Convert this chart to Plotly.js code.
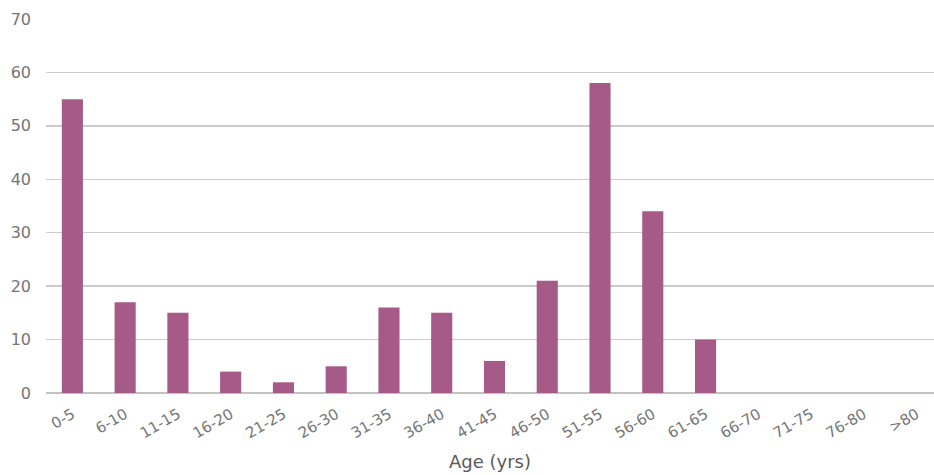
<!DOCTYPE html>
<html>
<head>
<meta charset="utf-8">
<script src="https://cdn.plot.ly/plotly-3.0.1.min.js"></script>
<style>html,body{margin:0;padding:0;background:#fff;}#chart{width:934px;height:475px;}</style>
</head>
<body>
<div id="chart"></div>
<script>
// Patient counts by age band
const ageBands = ["0-5","6-10","11-15","16-20","21-25","26-30","31-35","36-40","41-45","46-50","51-55","56-60","61-65","66-70","71-75","76-80",">80"];
const counts = [55,17,15,4,2,5,16,15,6,21,58,34,10,0,0,0,0];
const yTicks = [0,10,20,30,40,50,60,70];

const trace = {
  type: "bar",
  x: ageBands,
  y: counts,
  marker: {color: "#a65a88"},
  hoverinfo: "x+y"
};

const layout = {
  width: 934,
  height: 475,
  margin: {l: 46, r: 0, t: 19, b: 82},
  paper_bgcolor: "#fff",
  plot_bgcolor: "#fff",
  bargap: 0.6,
  showlegend: false,
  font: {family: "'DejaVu Sans', sans-serif", color: "#666", size: 15},
  xaxis: {
    type: "category",
    range: [-0.5, 16.33],
    tickangle: -30,
    showgrid: false,
    zeroline: false,
    showline: false,
    ticks: "",
    ticklabelstandoff: 9,
    tickfont: {size: 15, color: "#757575"},
    title: {text: "Age (yrs)", font: {size: 18, color: "#5a5a5a"}, standoff: 14}
  },
  yaxis: {
    range: [0, 70],
    tickvals: yTicks,
    showgrid: true,
    gridcolor: "#cbcbcb",
    gridwidth: 1.5,
    zeroline: true,
    zerolinecolor: "#c2c2c2",
    zerolinewidth: 1.5,
    showline: false,
    ticks: "",
    ticklabelstandoff: 14,
    tickfont: {size: 16, color: "#757575"}
  }
};

Plotly.newPlot("chart", [trace], layout, {displayModeBar: false, staticPlot: true});
</script>
</body>
</html>
